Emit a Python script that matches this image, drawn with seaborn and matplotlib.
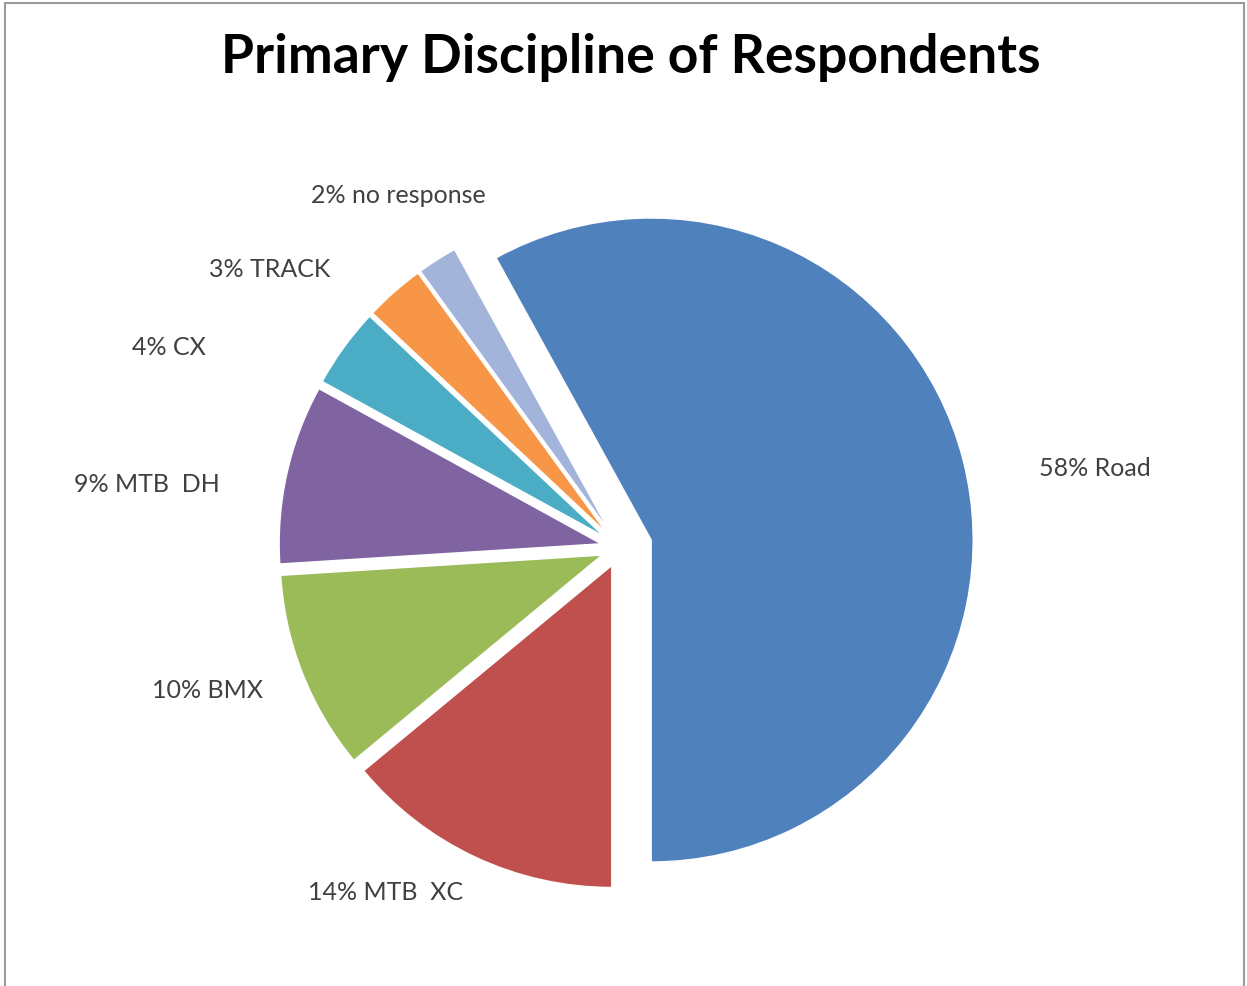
import matplotlib
matplotlib.use("Agg")
import matplotlib.pyplot as plt
import seaborn as sns
from matplotlib.patches import Rectangle

# data
disciplines = ["Road", "MTB  XC", "BMX", "MTB  DH", "CX", "TRACK", "no response"]
shares = [58, 14, 10, 9, 4, 3, 2]
colors = ["#4F81BD", "#C0504D", "#9BBB59", "#8064A2", "#4BACC6", "#F79646", "#A2B4DA"]
explode = [0.10, 0.06, 0.06, 0.06, 0.06, 0.06, 0.06]

# label centres (pie units, relative to pie centre) - where Excel put them
label_pos = [(1.475, 0.247), (-0.728, -1.069), (-1.281, -0.441), (-1.469, 0.197),
             (-1.40, 0.622), (-1.0875, 0.866), (-0.6875, 1.094)]

sns.set_theme(style="white")
plt.rcParams["font.family"] = ["Lato", "DejaVu Sans"]

fig = plt.figure(figsize=(12.47, 9.86), dpi=100)
ax = fig.add_axes([0, 0, 1, 1])

wedges, _ = ax.pie(shares, colors=sns.color_palette(colors), explode=explode,
                   startangle=118.8, counterclock=False,
                   wedgeprops=dict(edgecolor="white", linewidth=1))

for name, val, (x, y) in zip(disciplines, shares, label_pos):
    ax.text(x, y, f"{val}% {name}", ha="center", va="center",
            fontsize=18, color="#404040")

# pie centre at pixel (620, 548), radius 322 px
ax.set_xlim(-620 / 322, 627 / 322)
ax.set_ylim(-(986 - 548) / 322, 548 / 322)
ax.set_aspect("equal")
ax.axis("off")

fig.text(631 / 1247, 1 - 58 / 986, "Primary Discipline of Respondents",
         ha="center", va="center", fontsize=38.5, fontweight="bold", color="black")

fig.patches.append(Rectangle((5 / 1247, -0.01), 1239 / 1247, 1 - 3 / 986 + 0.01,
                             transform=fig.transFigure, fill=False,
                             edgecolor="#9A9A9A", linewidth=1.5))

fig.savefig("out.png", dpi=100, facecolor="white")
